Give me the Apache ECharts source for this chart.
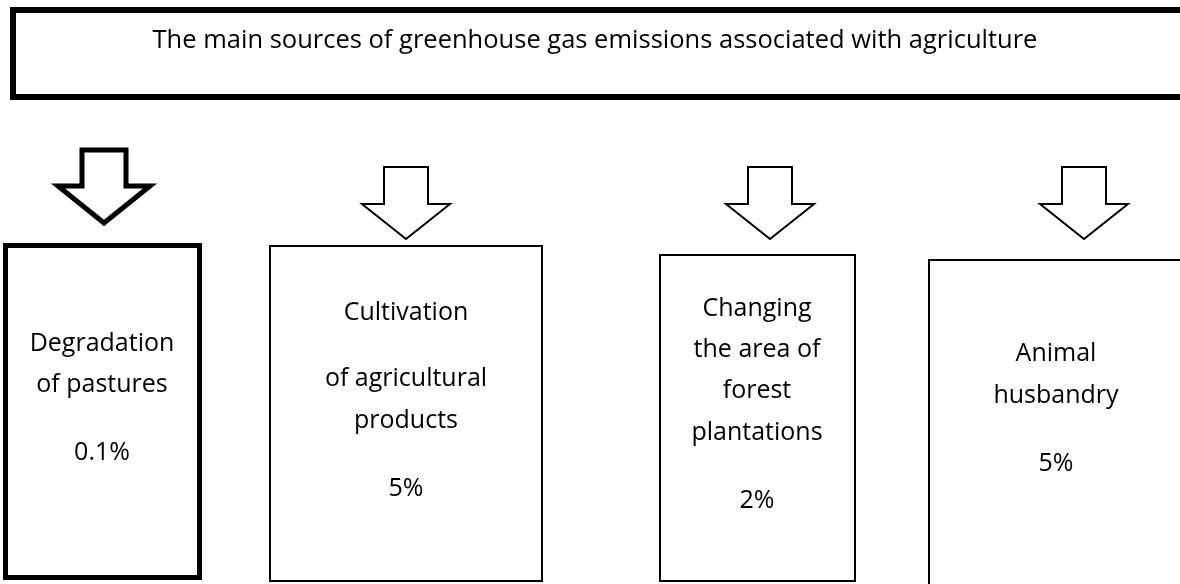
<!DOCTYPE html>
<html>
<head>
<meta charset="utf-8">
<title>Greenhouse gas emissions associated with agriculture</title>
<script src="https://cdn.jsdelivr.net/npm/echarts@6/dist/echarts.min.js"></script>
<style>
  html, body { margin: 0; padding: 0; background: #fff; }
  #chart { width: 1180px; height: 584px; }
</style>
</head>
<body>
<div id="chart"></div>
<script>
// data
const title = "The main sources of greenhouse gas emissions associated with agriculture";
const sources = [
  ["Degradation", "of pastures"],
  ["Cultivation", "of agricultural", "products"],
  ["Changing", "the area of", "forest", "plantations"],
  ["Animal", "husbandry"]
];
const shares = [0.1, 5, 2, 5];

// layout of the boxes / arrows (pixels)
const boxLayout = [
  { x: 5.5, y: 245.5, w: 194, h: 332, lw: 5, tx: 102, lineY: [344, 385], valueY: 453 },
  { x: 270, y: 246, w: 272, h: 335, lw: 2, tx: 406, lineY: [313, 379, 421], valueY: 489 },
  { x: 660, y: 255, w: 195, h: 326, lw: 2, tx: 757, lineY: [309, 350, 391, 433], valueY: 501 },
  { x: 929, y: 260, w: 262, h: 340, lw: 2, tx: 1056, lineY: [354, 396], valueY: 464 }
];
const arrowLayout = [
  { cx: 104, top: 150, shaft: 22, headY: 186, wing: 46, tip: 223, lw: 5 },
  { cx: 406, top: 167, shaft: 22, headY: 204, wing: 44, tip: 239, lw: 2 },
  { cx: 770, top: 167, shaft: 22, headY: 204, wing: 44, tip: 239, lw: 2 },
  { cx: 1084, top: 167, shaft: 22, headY: 204, wing: 44, tip: 239, lw: 2 }
];

const font = "'Open Sans', 'Noto Sans', sans-serif";

function arrow(a) {
  return {
    type: "polygon",
    shape: {
      points: [
        [a.cx - a.shaft, a.top], [a.cx + a.shaft, a.top],
        [a.cx + a.shaft, a.headY], [a.cx + a.wing, a.headY],
        [a.cx, a.tip],
        [a.cx - a.wing, a.headY], [a.cx - a.shaft, a.headY]
      ]
    },
    style: { fill: "#fff", stroke: "#000", lineWidth: a.lw, lineJoin: "miter" }
  };
}

function text(str, x, y, size) {
  return {
    type: "text",
    x: x, y: y,
    style: {
      text: str, fill: "#000", font: size + "px " + font,
      align: "center", verticalAlign: "middle"
    }
  };
}

const elements = [];
// title box
elements.push({
  type: "rect",
  shape: { x: 13, y: 10, width: 1170, height: 87 },
  style: { fill: "#fff", stroke: "#000", lineWidth: 6 }
});
elements.push(text(title, 595, 41, 25.5));

sources.forEach(function (lines, i) {
  const b = boxLayout[i];
  elements.push(arrow(arrowLayout[i]));
  elements.push({
    type: "rect",
    shape: { x: b.x, y: b.y, width: b.w, height: b.h },
    style: { fill: "#fff", stroke: "#000", lineWidth: b.lw }
  });
  lines.forEach(function (l, j) {
    elements.push(text(l, b.tx, b.lineY[j], 25));
  });
  elements.push(text(shares[i] + "%", b.tx, b.valueY, 25));
});

const chart = echarts.init(document.getElementById("chart"), null, { renderer: "canvas" });
chart.setOption({
  backgroundColor: "#fff",
  animation: false,
  graphic: { elements: elements }
});
</script>
</body>
</html>
